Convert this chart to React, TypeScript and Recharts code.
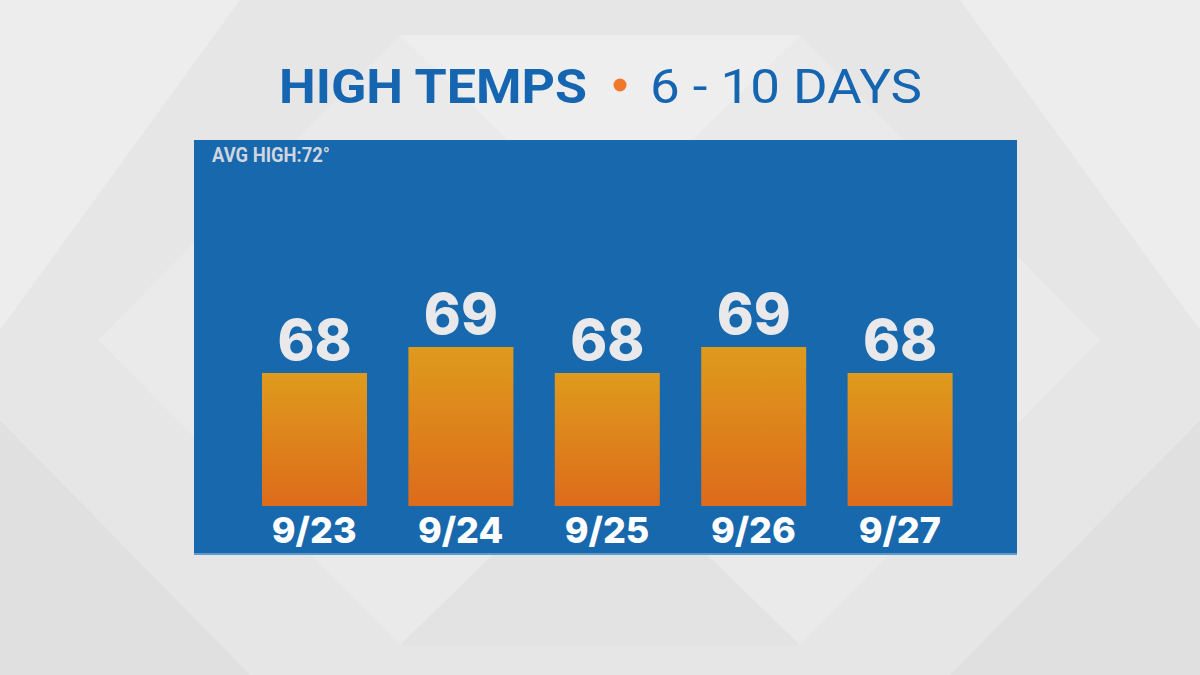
import React from 'react';
import { BarChart, Bar, XAxis, YAxis, LabelList } from 'recharts';

const days = ['9/23', '9/24', '9/25', '9/26', '9/27'];
const highs = [68, 69, 68, 69, 68];
const avgHigh = 72;

const data = days.map((day, i) => ({ day, high: highs[i] }));

const BLUE = '#1868ae';

const ValueLabel = (props: any) => {
  const { x, y, width, value } = props;
  return (
    <text
      x={x + width / 2}
      y={y - 13}
      textAnchor="middle"
      fill="#e9e9eb"
      fontFamily="Inter, sans-serif"
      fontWeight={800}
      fontSize={56}
    >
      {value}
    </text>
  );
};

const DayTick = (props: any) => {
  const { x, y, payload } = props;
  return (
    <text
      x={x}
      y={y}
      dy={37}
      textAnchor="middle"
      fill="#ffffff"
      fontFamily="Inter, sans-serif"
      fontWeight={800}
      fontSize={36}
    >
      {payload.value}
    </text>
  );
};

export default function App() {
  return (
    <div
      style={{
        position: 'fixed',
        left: 0,
        top: 0,
        width: 1200,
        height: 675,
        overflow: 'hidden',
        background: '#e6e6e7',
      }}
    >
      {/* background shapes and title */}
      <svg width={1200} height={675} style={{ position: 'absolute', left: 0, top: 0 }}>
        <polygon points="0,0 240,0 0,330" fill="#ededee" />
        <polygon points="960,0 1200,0 1200,330" fill="#ededee" />
        <polygon points="98,340 400,35 800,35 1100,340 800,645 400,645" fill="#eaeaeb" />
        <polygon points="0,420 250,675 0,675" fill="#e0e0e1" />
        <polygon points="1200,420 950,675 1200,675" fill="#e0e0e1" />
        <polygon points="400,35 600,230 800,35" fill="#eeeeef" />
        <polygon points="400,645 600,450 800,645" fill="#e3e3e4" />
        <text
          x={279}
          y={103}
          fill="#1565b0"
          fontFamily="Roboto, sans-serif"
          fontWeight={700}
          fontSize={48}
          textLength={308}
          lengthAdjust="spacingAndGlyphs"
        >
          HIGH TEMPS
        </text>
        <circle cx={620} cy={85} r={6.5} fill="#f07828" />
        <text
          x={650}
          y={103}
          fill="#1565b0"
          fontFamily="Roboto, sans-serif"
          fontWeight={400}
          fontSize={48}
          textLength={272}
          lengthAdjust="spacingAndGlyphs"
        >
          6 - 10 DAYS
        </text>
      </svg>

      <div
        style={{
          position: 'absolute',
          left: 194,
          top: 140,
          width: 823,
          height: 413,
          background: BLUE,
          boxShadow: '0 2px 0 #5d9ad0',
        }}
      >
        <svg width={823} height={40} style={{ position: 'absolute', left: 0, top: 0 }}>
          <text
            x={18}
            y={22}
            fill="#cfd6df"
            fontFamily="Roboto, sans-serif"
            fontWeight={700}
            fontSize={20}
            textLength={118}
            lengthAdjust="spacingAndGlyphs"
          >
            {`AVG HIGH:${avgHigh}°`}
          </text>
        </svg>
        <BarChart
          width={823}
          height={413}
          data={data}
          margin={{ top: 129, right: 44, bottom: 0, left: 47 }}
          style={{ position: 'absolute', left: 0, top: 0 }}
        >
          <defs>
            <linearGradient id="barFill" x1="0" y1="0" x2="0" y2="1">
              <stop offset="0%" stopColor="#de9b1c" />
              <stop offset="100%" stopColor="#dd6b1b" />
            </linearGradient>
          </defs>
          <XAxis
            dataKey="day"
            axisLine={false}
            tickLine={false}
            tickSize={0}
            tickMargin={0}
            height={47}
            interval={0}
            tick={<DayTick />}
          />
          <YAxis hide domain={[62.88, 72]} allowDataOverflow />
          <Bar dataKey="high" fill="url(#barFill)" barSize={105} isAnimationActive={false}>
            <LabelList dataKey="high" content={<ValueLabel />} />
          </Bar>
        </BarChart>
      </div>
    </div>
  );
}
